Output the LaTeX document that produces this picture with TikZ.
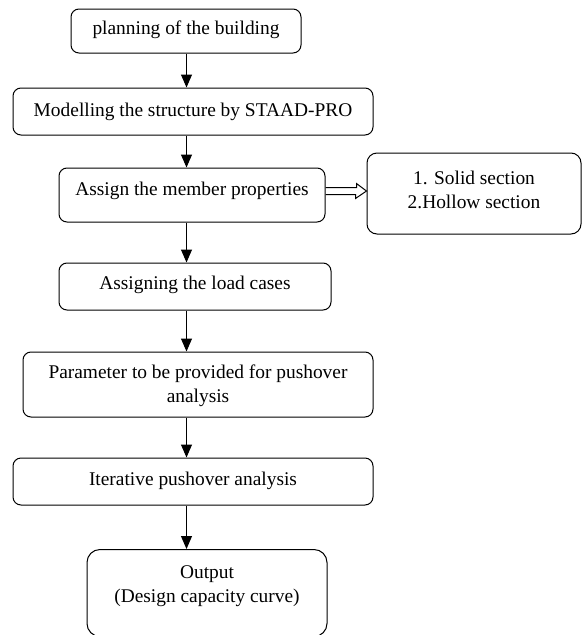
\documentclass[tikz,border=0pt]{standalone}
\usepackage{fontspec}
\setmainfont{Liberation Serif}
\usetikzlibrary{arrows.meta,calc}
\begin{document}
\begin{tikzpicture}[x=1pt,y=-1pt,
  box/.style={draw, line width=1pt, rounded corners=8pt, inner sep=0pt},
  lbl/.style={font=\fontsize{19.4}{24}\selectfont, align=center, inner sep=0pt},
  arr/.style={draw, line width=1pt, -{Triangle[length=13pt,width=11pt]}}]
\useasboundingbox (0,0) rectangle (582,635);
\node[box, minimum width=230, minimum height=44,
  label={[lbl,yshift=1.5pt]center:planning of the building}] (b1) at (186,31) {};
\node[box, minimum width=360, minimum height=47,
  label={[lbl,yshift=0pt]center:Modelling the structure by STAAD-PRO}] (b2) at (193,111.5) {};
\node[box, minimum width=266, minimum height=54,
  label={[lbl,yshift=4pt]center:Assign the member properties}] (b3) at (192,195) {};
\node[box, rounded corners=10pt, minimum width=214, minimum height=81,
  label={[lbl,yshift=4pt]center:{1. Solid section\\2.Hollow section}}] (b4) at (474,193.5) {};
\node[box, minimum width=272, minimum height=47,
  label={[lbl,yshift=2pt]center:Assigning the load cases}] (b5) at (195,286.5) {};
\node[box, minimum width=350, minimum height=65,
  label={[lbl,yshift=-1pt]center:{Parameter to be provided for pushover\\analysis}}] (b6) at (198,384.5) {};
\node[box, minimum width=360, minimum height=47,
  label={[lbl,yshift=1pt]center:Iterative pushover analysis}] (b7) at (193,481.5) {};
\node[box, rounded corners=13pt, minimum width=240, minimum height=87,
  label={[lbl,yshift=7pt]center:{Output\\(Design capacity curve)}}] (b8) at (207,593) {};
\coordinate (ax) at (186.5,0);
\draw[arr] (b1.south -| ax) -- (b2.north -| ax);
\draw[arr] (b2.south -| ax) -- (b3.north -| ax);
\draw[arr] (b3.south -| ax) -- (b5.north -| ax);
\draw[arr] (b5.south -| ax) -- (b6.north -| ax);
\draw[arr] (b6.south -| ax) -- (b7.north -| ax);
\draw[arr] (b7.south -| ax) -- (b8.north -| ax);
\coordinate (dA) at ($(b3.east)+(0,-4)$);
\coordinate (tip) at (b4.west |- dA);
\draw[line width=1pt, line join=miter] ($(dA)+(0,-3.5)$) -- ++(31,0) -- ++(0,-4) -- (tip)
  -- ++(-11,7.5) -- ++(0,-4) -- ($(dA)+(0,3.5)$);
\end{tikzpicture}
\end{document}
